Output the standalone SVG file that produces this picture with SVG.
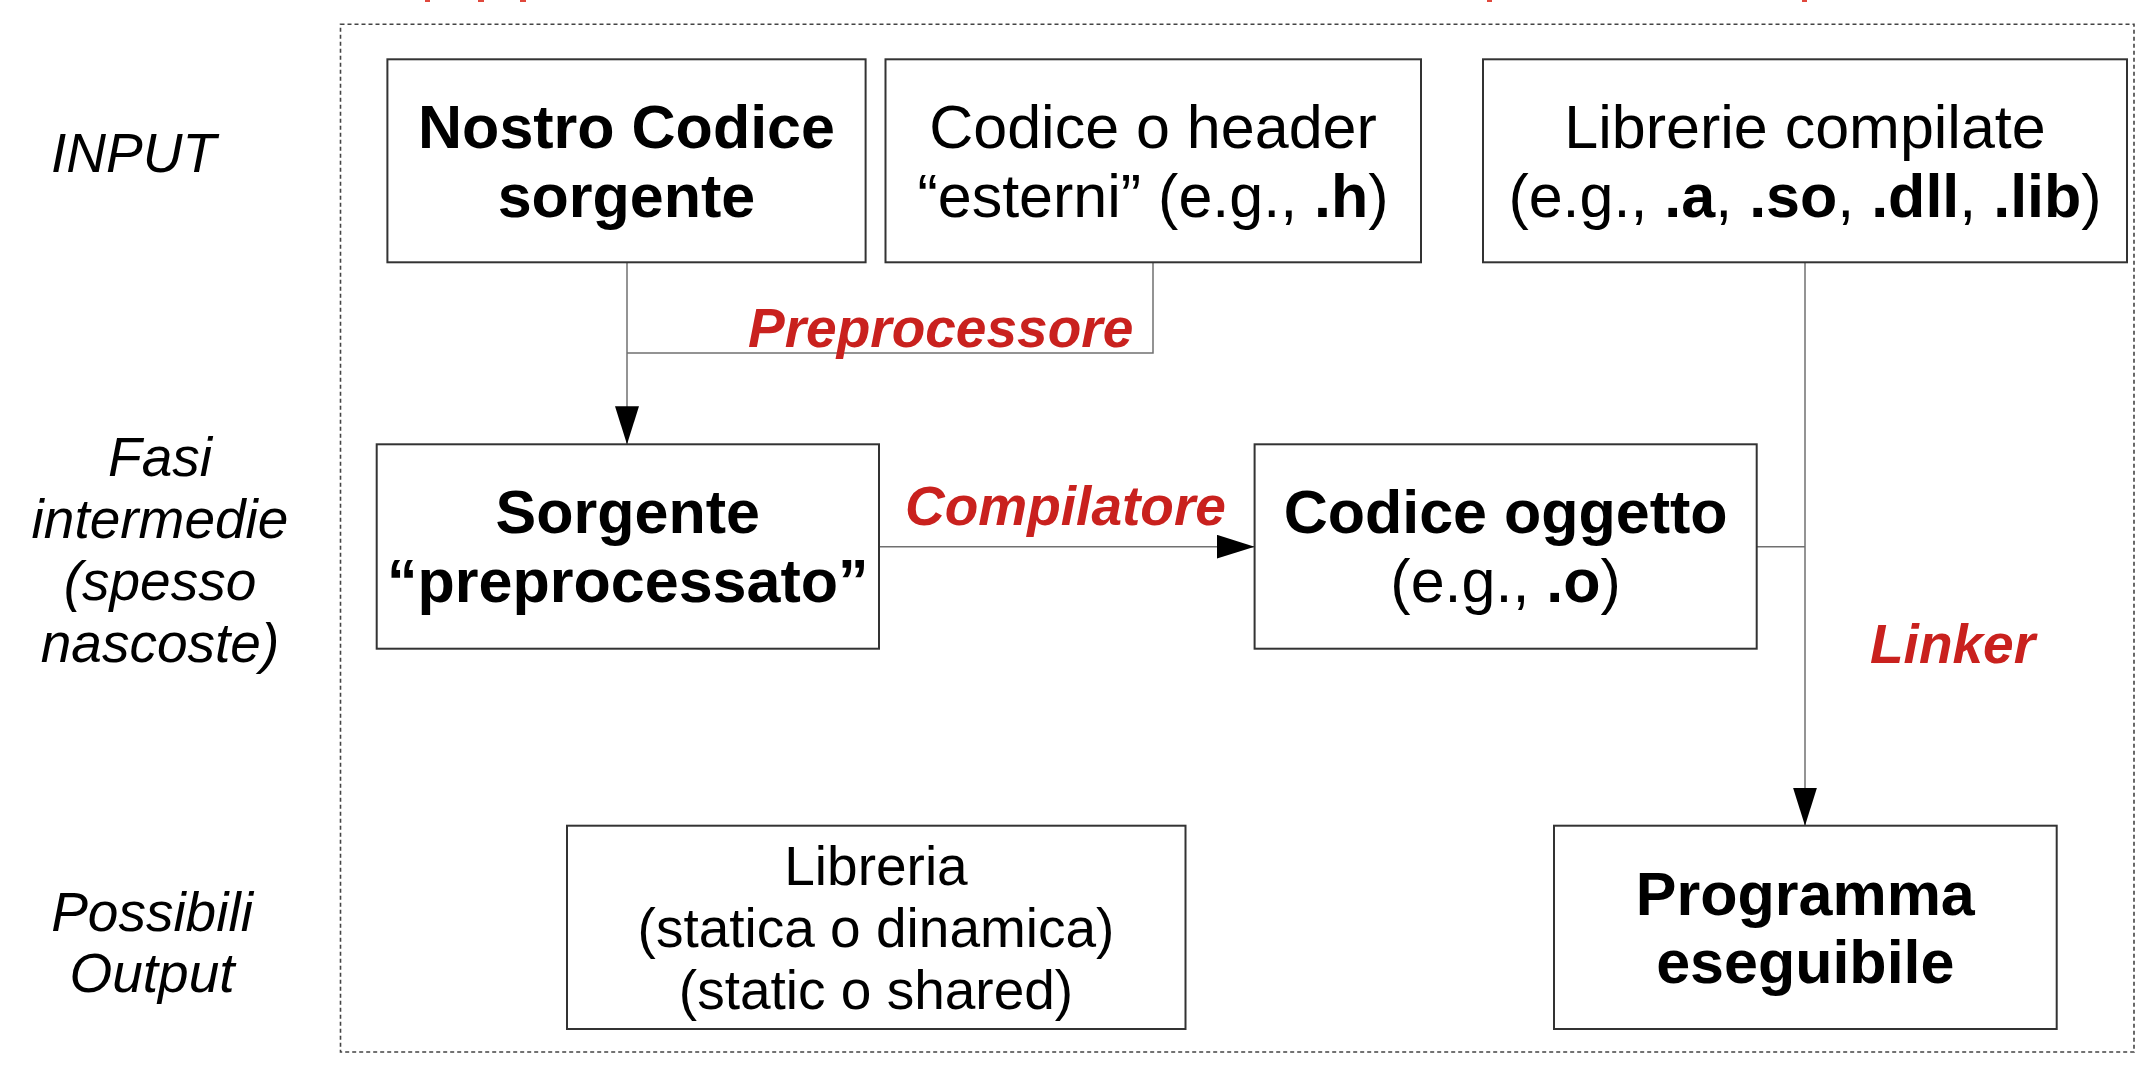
<svg xmlns="http://www.w3.org/2000/svg" width="2154" height="1082" viewBox="0 0 2154 1082">
<style>
  .box { fill: #ffffff; stroke: #333333; stroke-width: 2; }
  .frame { fill: none; stroke: #444444; stroke-width: 1.6; stroke-dasharray: 4 3; }
  .conn { fill: none; stroke: #707070; stroke-width: 1.5; }
  .t { font-family: "Liberation Sans", Arial, sans-serif; font-size: 61px; fill: #000000; text-anchor: middle; }
  .tb { font-weight: bold; }
  .small { font-size: 55px; }
  .side { font-family: "Liberation Sans", Arial, sans-serif; font-size: 55px; font-style: italic; fill: #000000; text-anchor: middle; }
  .red { font-family: "Liberation Sans", Arial, sans-serif; font-size: 55px; font-style: italic; font-weight: bold; fill: #c9211e; }
</style>
<defs>
  <marker id="arrow" viewBox="0 0 38 24" refX="38" refY="12" markerWidth="38" markerHeight="24" markerUnits="userSpaceOnUse" orient="auto">
    <path d="M0,0 L38,12 L0,24 z" fill="#000000"/>
  </marker>
</defs>
<rect width="2154" height="1082" fill="#ffffff"/>

<g id="clipped-title" fill="#e0483c">
  <rect x="425" y="0" width="5" height="2"/>
  <rect x="478" y="0" width="6" height="2"/>
  <rect x="520" y="0" width="6" height="2"/>
  <rect x="1487" y="0" width="5" height="2"/>
  <rect x="1802" y="0" width="5" height="2"/>
</g>

<g id="frame">
  <rect class="frame" x="340.5" y="24.3" width="1793.5" height="1027.7"/>
</g>

<g id="labels">
  <text class="side" x="51" y="171.7" style="text-anchor:start">INPUT</text>
  <text class="side" x="160" y="476">Fasi</text>
  <text class="side" x="160" y="538">intermedie</text>
  <text class="side" x="160" y="600">(spesso</text>
  <text class="side" x="160" y="662">nascoste)</text>
  <text class="side" x="152" y="930.7">Possibili</text>
  <text class="side" x="152" y="991.7">Output</text>
</g>

<g id="connectors">
  <path class="conn" d="M1153,262.3 V353 H627"/>
  <path class="conn" d="M627,262.3 V444.3" marker-end="url(#arrow)"/>
  <path class="conn" d="M879,546.7 H1254.6" marker-end="url(#arrow)"/>
  <path class="conn" d="M1756.7,546.7 H1805"/>
  <path class="conn" d="M1805,262.3 V825.7" marker-end="url(#arrow)"/>
  <text class="red" x="748" y="347">Preprocessore</text>
  <text class="red" x="905" y="525">Compilatore</text>
  <text class="red" x="1870" y="663">Linker</text>
</g>

<g id="nostro-codice">
  <rect class="box" x="387.4" y="59.3" width="478.2" height="203"/>
  <text class="t tb" x="626.5" y="147.7">Nostro Codice</text>
  <text class="t tb" x="626.5" y="216.7">sorgente</text>
</g>

<g id="codice-header">
  <rect class="box" x="885.5" y="59.3" width="535.5" height="203"/>
  <text class="t" x="1153" y="147.7">Codice o header</text>
  <text class="t" x="1153" y="216.7">“esterni” (e.g., <tspan class="tb">.h</tspan>)</text>
</g>

<g id="librerie-compilate">
  <rect class="box" x="1483" y="59.3" width="644" height="203"/>
  <text class="t" x="1805" y="147.7">Librerie compilate</text>
  <text class="t" x="1805" y="216.7">(e.g., <tspan class="tb">.a</tspan>, <tspan class="tb">.so</tspan>, <tspan class="tb">.dll</tspan>, <tspan class="tb">.lib</tspan>)</text>
</g>

<g id="sorgente-preprocessato">
  <rect class="box" x="376.7" y="444.3" width="502.3" height="204.4"/>
  <text class="t tb" x="627.8" y="533.3">Sorgente</text>
  <text class="t tb" x="627.8" y="601.7">“preprocessato”</text>
</g>

<g id="codice-oggetto">
  <rect class="box" x="1254.6" y="444.3" width="502.1" height="204.4"/>
  <text class="t tb" x="1505.6" y="533.3">Codice oggetto</text>
  <text class="t" x="1505.6" y="601.7">(e.g., <tspan class="tb">.o</tspan>)</text>
</g>

<g id="libreria">
  <rect class="box" x="567" y="825.7" width="618.5" height="203.3"/>
  <text class="t small" x="876" y="885">Libreria</text>
  <text class="t small" x="876" y="947">(statica o dinamica)</text>
  <text class="t small" x="876" y="1009">(static o shared)</text>
</g>

<g id="programma-eseguibile">
  <rect class="box" x="1554" y="825.7" width="502.7" height="203.3"/>
  <text class="t tb" x="1805.3" y="915">Programma</text>
  <text class="t tb" x="1805.3" y="983">eseguibile</text>
</g>
</svg>
